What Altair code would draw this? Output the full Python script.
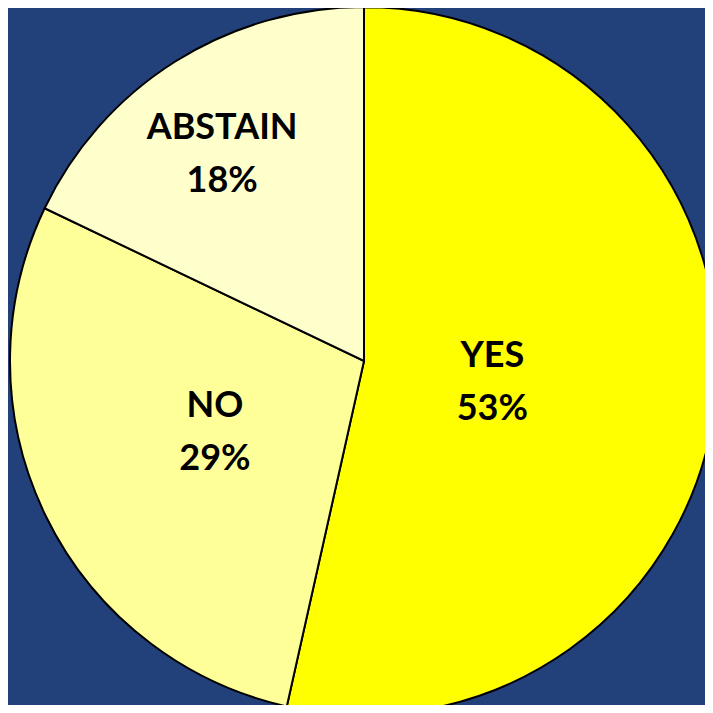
import altair as alt
import pandas as pd

categories = ["YES", "NO", "ABSTAIN"]
shares = [53.5, 28.6, 17.9]
pct_labels = ["53%", "29%", "18%"]
slice_colors = ["#FFFF00", "#FFFF99", "#FFFFCC"]

df = pd.DataFrame({
    "category": categories,
    "share": shares,
    "label": [f"{c}\n{p}" for c, p in zip(categories, pct_labels)],
    "order": list(range(len(categories))),
})

cx, cy, R = 356, 353, 354

pie = alt.Chart(df).mark_arc(outerRadius=R, stroke="black", strokeWidth=2).encode(
    theta=alt.Theta("share:Q", stack=True),
    order=alt.Order("order:Q"),
    x=alt.value(cx),
    y=alt.value(cy),
    color=alt.Color("category:N",
                    scale=alt.Scale(domain=categories, range=slice_colors),
                    legend=None),
)

text = alt.Chart(df).transform_joinaggregate(
    total="sum(share)"
).transform_window(
    cum="sum(share)", sort=[alt.SortField("order")]
).transform_calculate(
    frac="(datum.cum - datum.share / 2) / datum.total"
         " + (datum.category == 'YES' ? 0.0078 : (datum.category == 'NO' ? 0.0014 : -0.0061))",
    rad="datum.category == 'YES' ? 130 : (datum.category == 'NO' ? 165 : 251)",
).mark_text(
    font="Lato", fontWeight="bold", fontSize=36, lineBreak="\n", lineHeight=53,
    align="center", baseline="middle", color="black", dy=-26
).encode(
    theta=alt.Theta("frac:Q", stack=None, scale=alt.Scale(domain=[0, 1])),
    radius=alt.Radius("rad:Q", scale=None),
    x=alt.value(cx),
    y=alt.value(cy),
    text="label:N",
)

chart = alt.layer(pie, text).resolve_scale(theta="independent").properties(
    width=697, height=697,
    autosize=alt.AutoSizeParams(type="none"),
    padding=0,
    background="#22417B",
).configure_view(stroke=None)

chart.save("out.html", embed_options={"renderer": "svg", "actions": False})
